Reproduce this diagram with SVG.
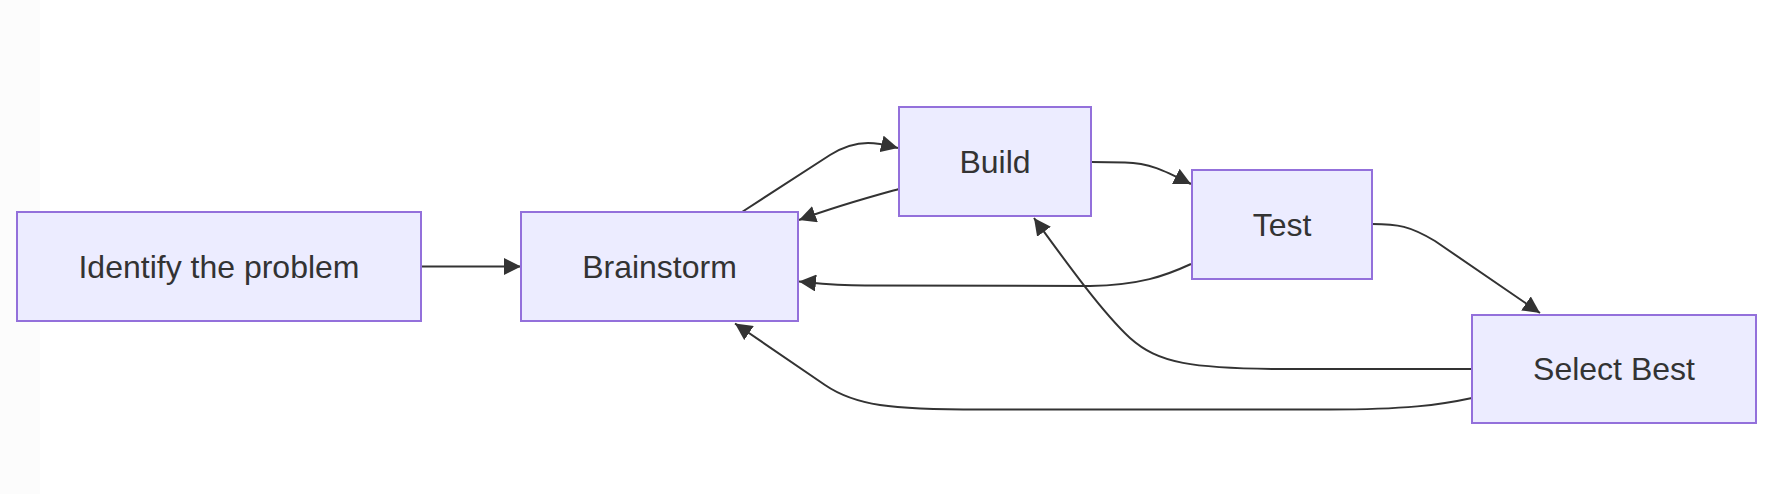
<svg xmlns="http://www.w3.org/2000/svg" width="1772" height="494" viewBox="0 0 1772 494">
  <style>
    .node rect { fill: #ECECFF; stroke: #9370DB; stroke-width: 2; }
    .node text { font-family: "Liberation Sans", Arial, sans-serif; font-size: 32px; fill: #333333; text-anchor: middle; }
    .edge { fill: none; stroke: #333333; stroke-width: 2; marker-end: url(#arrow); }
  </style>
  <defs>
    <marker id="arrow" viewBox="0 0 10 10" refX="10" refY="5" markerUnits="userSpaceOnUse" markerWidth="17" markerHeight="17" orient="auto">
      <path d="M 0 0 L 10 5 L 0 10 z" fill="#333333"/>
    </marker>
  </defs>
  <rect x="0" y="0" width="1772" height="494" fill="#ffffff"/>
  <rect x="0" y="0" width="40" height="494" fill="#fcfcfc"/>

  <g id="connectors">
    <path class="edge" d="M421,266.5 L521,266.5"/>
    <path class="edge" d="M742,212 L830,155 C846,145 858,143 868,143 C880,143 890,146 898,148"/>
    <path class="edge" d="M899,189 C870,197 840,205 799,220"/>
    <path class="edge" d="M1091,162 L1125,162.5 C1150,163 1165,171 1191,184"/>
    <path class="edge" d="M1191,264 C1165,276 1140,285 1090,286 L865,285.5 C835,285.5 815,283 799,281.5"/>
    <path class="edge" d="M1372,224 C1398,224 1410,226 1435,241 L1540,313"/>
    <path class="edge" d="M1472,369 L1290,369 C1190,369 1158,363 1130,338 C1102,312 1066,262 1034,218"/>
    <path class="edge" d="M1472,398 C1440,405 1405,409.5 1330,409.5 L980,409.5 C890,409.5 855,405.5 825,385 L735,323.5"/>
  </g>

  <g id="node-identify" class="node">
    <rect x="17" y="212" width="404" height="109"/>
    <text x="219" y="277.6">Identify the problem</text>
  </g>
  <g id="node-brainstorm" class="node">
    <rect x="521" y="212" width="277" height="109"/>
    <text x="659.5" y="277.6">Brainstorm</text>
  </g>
  <g id="node-build" class="node">
    <rect x="899" y="107" width="192" height="109"/>
    <text x="995" y="172.6">Build</text>
  </g>
  <g id="node-test" class="node">
    <rect x="1192" y="170" width="180" height="109"/>
    <text x="1282" y="235.6">Test</text>
  </g>
  <g id="node-select" class="node">
    <rect x="1472" y="315" width="284" height="108"/>
    <text x="1614" y="380.1">Select Best</text>
  </g>
</svg>
